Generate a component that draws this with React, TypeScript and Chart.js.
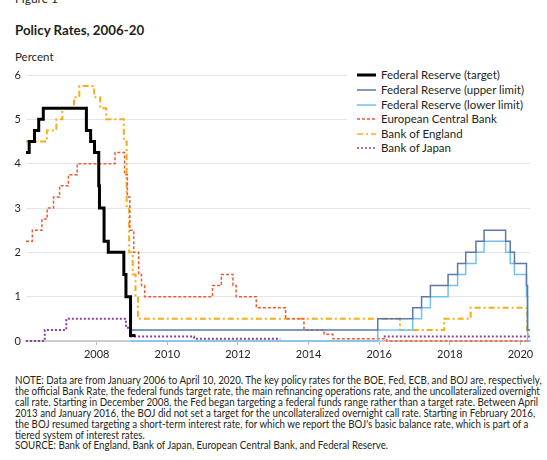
import React, { useEffect, useRef } from "react";
import { Chart, registerables } from "chart.js";

Chart.register(...registerables);

// ---- Data (decimal years, percent) ----
const fedTargetDates = [2006.0, 2006.09, 2006.24, 2006.36, 2006.49, 2007.71, 2007.83, 2007.94, 2008.06, 2008.08, 2008.21, 2008.33, 2008.77, 2008.83, 2008.96, 2009.1];
const fedTargetRates = [4.25, 4.5, 4.75, 5.0, 5.25, 4.75, 4.5, 4.25, 3.5, 3.0, 2.25, 2.0, 1.5, 1.0, 0.125, 0.125];

const fedRangeDates = [2008.96, 2015.96, 2016.95, 2017.2, 2017.45, 2017.95, 2018.22, 2018.45, 2018.74, 2018.97, 2019.58, 2019.71, 2019.83, 2020.17, 2020.2, 2020.27];
const fedUpperRates = [0.25, 0.5, 0.75, 1.0, 1.25, 1.5, 1.75, 2.0, 2.25, 2.5, 2.25, 2.0, 1.75, 1.25, 0.25, 0.25];
const fedLowerRates = [0.0, 0.25, 0.5, 0.75, 1.0, 1.25, 1.5, 1.75, 2.0, 2.25, 2.0, 1.75, 1.5, 1.0, 0.0, 0.0];

const ecbDates = [2006.0, 2006.18, 2006.45, 2006.6, 2006.78, 2006.95, 2007.2, 2007.45, 2008.52, 2008.79, 2008.87, 2008.94, 2009.05, 2009.19, 2009.27, 2009.36, 2011.28, 2011.53, 2011.86, 2011.95, 2012.52, 2013.35, 2013.87, 2014.44, 2014.69, 2016.21, 2020.27];
const ecbRates = [2.25, 2.5, 2.75, 3.0, 3.25, 3.5, 3.75, 4.0, 4.25, 3.75, 3.25, 2.5, 2.0, 1.5, 1.25, 1.0, 1.25, 1.5, 1.25, 1.0, 0.75, 0.5, 0.25, 0.15, 0.05, 0.0, 0.0];

const boeDates = [2006.0, 2006.59, 2006.86, 2007.03, 2007.36, 2007.51, 2007.93, 2008.1, 2008.27, 2008.77, 2008.85, 2008.92, 2009.02, 2009.1, 2009.17, 2016.59, 2017.84, 2018.59, 2020.19, 2020.21, 2020.27];
const boeRates = [4.5, 4.75, 5.0, 5.25, 5.5, 5.75, 5.5, 5.25, 5.0, 4.5, 3.0, 2.0, 1.5, 1.0, 0.5, 0.25, 0.5, 0.75, 0.25, 0.1, 0.1];

const bojDates = [2006.0, 2006.53, 2007.14, 2008.83, 2008.97, 2010.76, 2013.2, 2013.21, 2016.13, 2020.27];
const bojRates = [0.0, 0.25, 0.5, 0.3, 0.1, 0.05, 0.05, null, 0.1, 0.1];

const xTickYears = [2008, 2010, 2012, 2014, 2016, 2018, 2020];
const yTicks = [0, 1, 2, 3, 4, 5, 6];

const seriesLabels = [
  "Federal Reserve (target)",
  "Federal Reserve (upper limit)",
  "Federal Reserve (lower limit)",
  "European Central Bank",
  "Bank of England",
  "Bank of Japan",
];

const FONT = 'Lato, "Open Sans", sans-serif';
const TEXT = "#231f20";

const styles = [
  { color: "#000000", width: 3, dash: [] as number[] },
  { color: "#5a78ab", width: 1.5, dash: [] as number[] },
  { color: "#72c3ec", width: 1.5, dash: [] as number[] },
  { color: "#ee5a36", width: 1.5, dash: [3, 2] },
  { color: "#f6ad1a", width: 2, dash: [6, 3, 2, 3] },
  { color: "#8c3fa6", width: 2, dash: [2, 2] },
];

function pts(xs: number[], ys: (number | null)[]) {
  return xs.map((x, i) => ({ x, y: ys[i] }));
}

const noteLines = [
  "NOTE: Data are from January 2006 to April 10, 2020. The key policy rates for the BOE, Fed, ECB, and BOJ are, respectively,",
  "the official Bank Rate, the federal funds target rate, the main refinancing operations rate, and the uncollateralized overnight",
  "call rate. Starting in December 2008, the Fed began targeting a federal funds range rather than a target rate. Between April",
  "2013 and January 2016, the BOJ did not set a target for the uncollateralized overnight call rate. Starting in February 2016,",
  "the BOJ resumed targeting a short-term interest rate, for which we report the BOJ's basic balance rate, which is part of a",
  "tiered system of interest rates.",
  "SOURCE: Bank of England, Bank of Japan, European Central Bank, and Federal Reserve.",
];

function LegendSample({ idx }: { idx: number }) {
  const s = styles[idx];
  return (
    <svg width={19} height={6} style={{ position: "absolute", left: 0, top: 4 }}>
      <line
        x1={0}
        y1={3}
        x2={19}
        y2={3}
        stroke={s.color}
        strokeWidth={idx === 0 ? 3 : 1.5}
        strokeDasharray={s.dash.length ? s.dash.join(",") : undefined}
      />
    </svg>
  );
}

export default function App() {
  const canvasRef = useRef<HTMLCanvasElement | null>(null);

  useEffect(() => {
    const canvas = canvasRef.current;
    if (!canvas) return;
    const seriesData = [
      pts(fedTargetDates, fedTargetRates),
      pts(fedRangeDates, fedUpperRates),
      pts(fedRangeDates, fedLowerRates),
      pts(ecbDates, ecbRates),
      pts(boeDates, boeRates),
      pts(bojDates, bojRates),
    ];
    const chart = new Chart(canvas, {
      type: "line",
      data: {
        datasets: seriesData.map((d, i) => ({
          label: seriesLabels[i],
          data: d,
          borderColor: styles[i].color,
          borderWidth: styles[i].width,
          borderDash: styles[i].dash,
          borderCapStyle: "butt" as const,
          stepped: "before" as const,
          pointRadius: 0,
          fill: false,
          spanGaps: false,
          clip: false as any,
        })),
      },
      options: {
        responsive: false,
        animation: false,
        devicePixelRatio: 1,
        layout: { padding: { top: 75, right: 17, left: 0, bottom: 0 } },
        plugins: { legend: { display: false }, tooltip: { enabled: false }, title: { display: false } },
        scales: {
          x: {
            type: "linear",
            min: 2006,
            max: 2020.27,
            afterFit: (s: any) => {
              s.height = 29;
            },
            afterBuildTicks: (axis: any) => {
              axis.ticks = xTickYears.map((v) => ({ value: v }));
            },
            border: { display: true, color: "#cccccc", width: 2 },
            grid: { drawOnChartArea: false, drawTicks: true, tickLength: 4, color: "#bbbbbb" },
            ticks: {
              padding: 3,
              color: TEXT,
              font: { family: FONT, size: 11 },
              maxRotation: 0,
              autoSkip: false,
              callback: (v: any) => String(v),
            },
          },
          y: {
            min: 0,
            max: 6,
            afterFit: (s: any) => {
              s.width = 26;
            },
            afterBuildTicks: (axis: any) => {
              axis.ticks = yTicks.map((v) => ({ value: v }));
            },
            border: { display: false },
            grid: { color: "#e6e6e6", lineWidth: 1, drawTicks: false },
            ticks: {
              padding: 5,
              color: TEXT,
              font: { family: FONT, size: 11 },
              callback: (v: any) => String(v),
            },
          },
        },
      },
    });
    return () => chart.destroy();
  }, []);

  const legendRowY = [75, 90, 104.5, 119.3, 133.8, 148.3];

  return (
    <div
      style={{
        position: "absolute",
        left: 0,
        top: 0,
        width: 547,
        height: 460,
        overflow: "hidden",
        background: "#ffffff",
        fontFamily: FONT,
        color: TEXT,
      }}
    >
      <div style={{ position: "absolute", left: 15, top: -7, fontSize: 12, lineHeight: "12px", whiteSpace: "nowrap" }}>
        Figure 1
      </div>
      <div
        style={{
          position: "absolute",
          left: 15,
          top: 23,
          fontSize: 14,
          lineHeight: "14px",
          fontWeight: 700,
          whiteSpace: "nowrap",
          transform: "scaleX(0.95)",
          transformOrigin: "0 0",
        }}
      >
        Policy Rates, 2006-20
      </div>
      <div style={{ position: "absolute", left: 15, top: 51, fontSize: 11.5, lineHeight: "12px", whiteSpace: "nowrap" }}>
        Percent
      </div>
      <canvas ref={canvasRef} width={547} height={370} style={{ position: "absolute", left: 0, top: 0 }} />
      <div style={{ position: "absolute", left: 347, top: 66, width: 183, height: 90, background: "#ffffff" }} />
      {seriesLabels.map((lab, i) => (
        <div
          key={lab}
          style={{
            position: "absolute",
            left: 357,
            top: legendRowY[i] - 7,
            height: 14,
            width: 190,
            fontSize: 11.5,
            lineHeight: "14px",
            whiteSpace: "nowrap",
          }}
        >
          <LegendSample idx={i} />
          <span style={{ position: "absolute", left: 24, top: 0 }}>{lab}</span>
        </div>
      ))}
      <div
        style={{
          position: "absolute",
          left: 15,
          top: 375,
          fontSize: 10.5,
          lineHeight: "10.9px",
          transform: "scaleX(0.93)",
          transformOrigin: "0 0",
        }}
      >
        {noteLines.map((l, i) => (
          <div key={i} style={{ whiteSpace: "nowrap" }}>
            {l}
          </div>
        ))}
      </div>
    </div>
  );
}
